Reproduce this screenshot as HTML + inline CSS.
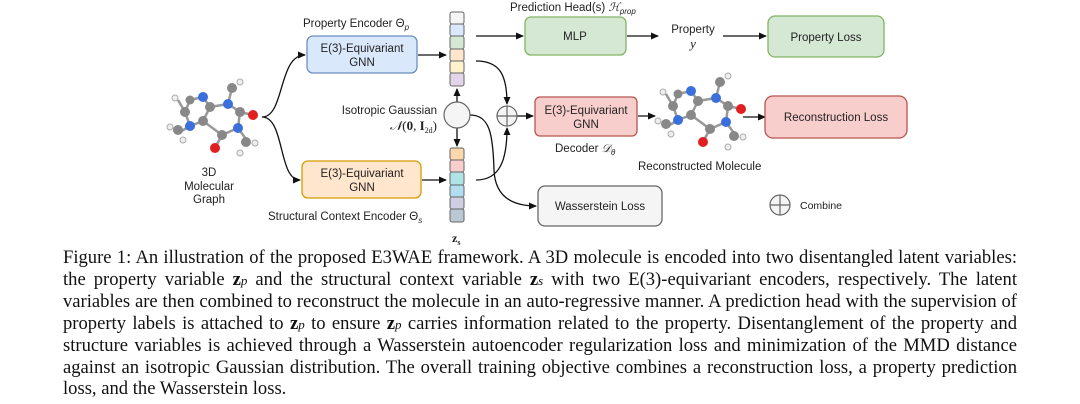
<!DOCTYPE html>
<html><head><meta charset="utf-8"><style>
body{margin:0;width:1080px;height:404px;background:#fff;position:relative;overflow:hidden;font-family:"Liberation Sans",sans-serif}
.cap{position:absolute;left:63px;width:954px;font-family:"Liberation Serif",serif;font-size:18.6px;color:#111;line-height:21.5px;top:247px}
.cap div{text-align:justify;text-align-last:justify;white-space:nowrap}
.cap div.l{text-align-last:left}
b{font-weight:bold}
</style></head><body>
<svg width="1080" height="245" style="position:absolute;left:0;top:0" font-family="Liberation Sans, sans-serif" font-size="11.5" fill="#222">
<defs><marker id="a" markerWidth="8" markerHeight="8" refX="7" refY="4" orient="auto" markerUnits="userSpaceOnUse"><path d="M0,0.5 L8,4 L0,7.5z" fill="#111"/></marker></defs>
<g stroke="#111" stroke-width="1.3" fill="none" marker-end="url(#a)">
<path d="M262,117 C285,117 278,55 305,55"/>
<path d="M262,117 C285,117 278,180 300,180"/>
<path d="M418,55 L446,55"/>
<path d="M422,180 L446,180"/>
<path d="M457,102 L457,89"/>
<path d="M457,128 L457,146"/>
<path d="M476,36 L523,36"/>
<path d="M627,36 L658,36"/>
<path d="M723,36 L766,36"/>
<path d="M476,61 C500,61 507,75 507,104"/>
<path d="M476,180 C500,180 507,160 507,128"/>
<path d="M517,116 L533,116"/>
<path d="M638,116 L655,116"/>
<path d="M743,117 L765,117"/>
<path d="M470,115 C490,115 493,135 494,170 C495,195 510,206 536,206"/>
</g>
<rect x="307" y="36" width="110" height="37" rx="6" fill="#dae8fc" stroke="#6c8ebf" stroke-width="1.3"/>
<text x="362" y="52" text-anchor="middle">E(3)-Equivariant</text><text x="362" y="66" text-anchor="middle">GNN</text>
<rect x="302" y="161" width="119" height="37" rx="6" fill="#ffe6cc" stroke="#d79b00" stroke-width="1.3"/>
<text x="362" y="177" text-anchor="middle">E(3)-Equivariant</text><text x="362" y="191" text-anchor="middle">GNN</text>
<g stroke="#666" stroke-width="1">
<rect x="450" y="12" width="14" height="12" rx="2" fill="#f5f5f5"/><rect x="450" y="24" width="14" height="12" rx="2" fill="#dae8fc"/><rect x="450" y="36" width="14" height="13" rx="2" fill="#d5e8d4"/><rect x="450" y="49" width="14" height="12" rx="2" fill="#ffe6cc"/><rect x="450" y="61" width="14" height="12" rx="2" fill="#fff2cc"/><rect x="450" y="73" width="14" height="13" rx="2" fill="#e1d5e7"/>
<rect x="450" y="148" width="14" height="12" rx="2" fill="#fad7ac"/><rect x="450" y="160" width="14" height="12" rx="2" fill="#f8cecc"/><rect x="450" y="172" width="14" height="13" rx="2" fill="#b0e3e6"/><rect x="450" y="185" width="14" height="12" rx="2" fill="#b1ddf0"/><rect x="450" y="197" width="14" height="12" rx="2" fill="#d0cee2"/><rect x="450" y="209" width="14" height="13" rx="2" fill="#bac8d3"/>
</g>
<circle cx="457" cy="115" r="13" fill="#f5f5f5" stroke="#666" stroke-width="1.2"/>
<text x="303" y="27">Property Encoder Θ<tspan font-style="italic" font-size="8" dy="3">p</tspan></text>
<text x="437" y="114" text-anchor="end">Isotropic Gaussian</text>
<text x="437" y="130" text-anchor="end" font-family="Liberation Serif, serif" font-size="13"><tspan font-style="italic">𝒩</tspan>(<tspan font-weight="bold">0</tspan>, <tspan font-weight="bold">I</tspan><tspan font-size="8" dy="3">2d</tspan><tspan dy="-3">)</tspan></text>
<text x="268" y="220">Structural Context Encoder Θ<tspan font-style="italic" font-size="8" dy="3">s</tspan></text>
<text x="452" y="242" font-family="Liberation Serif, serif" font-weight="bold" font-size="12">z<tspan font-size="8" dy="3">s</tspan></text>
<text x="209" y="176" text-anchor="middle">3D</text><text x="209" y="190" text-anchor="middle">Molecular</text><text x="209" y="203" text-anchor="middle">Graph</text>
<g id="mol">
<g stroke="#999" stroke-width="2.5" fill="none"><path d="M190,100 L203,97 L210,107 L203,121 L190,126 L185,112 Z M210,107 L228,104 L240,112 L238,128 L222,135 L203,121 M228,104 L232,88 M240,112 L253,115 M238,128 L248,142 M222,135 L215,148 M190,126 L180,132 M185,112 L178,100"/></g>
<circle cx="190" cy="100" r="4.5" fill="#888"/><circle cx="203" cy="97" r="5" fill="#3a6fdc"/><circle cx="210" cy="107" r="5" fill="#888"/><circle cx="203" cy="121" r="5" fill="#888"/><circle cx="190" cy="126" r="5" fill="#3a6fdc"/><circle cx="185" cy="112" r="5" fill="#888"/>
<circle cx="228" cy="104" r="5" fill="#3a6fdc"/><circle cx="240" cy="112" r="5" fill="#888"/><circle cx="238" cy="128" r="5" fill="#3a6fdc"/><circle cx="222" cy="135" r="5" fill="#888"/>
<circle cx="253" cy="115" r="5" fill="#e02020"/><circle cx="215" cy="148" r="5" fill="#e02020"/><circle cx="232" cy="88" r="5" fill="#888"/><circle cx="246" cy="142" r="5" fill="#888"/><circle cx="178" cy="130" r="5" fill="#888"/>
<circle cx="240" cy="82" r="3" fill="#eee" stroke="#aaa"/><circle cx="175" cy="98" r="3" fill="#eee" stroke="#aaa"/><circle cx="170" cy="127" r="3" fill="#eee" stroke="#aaa"/><circle cx="183" cy="140" r="3" fill="#eee" stroke="#aaa"/><circle cx="255" cy="143" r="3" fill="#eee" stroke="#aaa"/><circle cx="240" cy="153" r="3" fill="#eee" stroke="#aaa"/>
</g>
<use href="#mol" transform="translate(488,-6)"/>
<text x="510" y="11">Prediction Head(s) <tspan font-family="Liberation Serif, serif" font-style="italic">ℋ</tspan><tspan font-style="italic" font-size="8" dy="3">prop</tspan></text>
<rect x="525" y="17" width="101" height="38" rx="6" fill="#d5e8d4" stroke="#82b366" stroke-width="1.3"/>
<text x="575" y="40" text-anchor="middle">MLP</text>
<text x="693" y="33" text-anchor="middle">Property</text><text x="693" y="48" text-anchor="middle" font-family="Liberation Serif, serif" font-style="italic" font-size="13">y</text>
<rect x="768" y="16" width="116" height="41" rx="7" fill="#d5e8d4" stroke="#82b366" stroke-width="1.3"/>
<text x="826" y="41" text-anchor="middle">Property Loss</text>
<circle cx="507" cy="116" r="10" fill="#f5f5f5" stroke="#666" stroke-width="1.2"/><path d="M497,116 H517 M507,106 V126" stroke="#666" stroke-width="1.2"/>
<rect x="535" y="97" width="102" height="39" rx="5" fill="#f8cecc" stroke="#b85450" stroke-width="1.3"/>
<text x="586" y="114" text-anchor="middle">E(3)-Equivariant</text><text x="586" y="128" text-anchor="middle">GNN</text>
<text x="555" y="152">Decoder <tspan font-family="Liberation Serif, serif" font-style="italic">𝒟</tspan><tspan font-style="italic" font-size="8" dy="3">θ</tspan></text>
<text x="638" y="170">Reconstructed Molecule</text>
<rect x="765" y="96" width="142" height="42" rx="8" fill="#f8cecc" stroke="#b85450" stroke-width="1.3"/>
<text x="836" y="121" text-anchor="middle">Reconstruction Loss</text>
<rect x="538" y="186" width="124" height="40" rx="7" fill="#f5f5f5" stroke="#666" stroke-width="1.3"/>
<text x="600" y="210" text-anchor="middle">Wasserstein Loss</text>
<circle cx="780" cy="205" r="10" fill="#f5f5f5" stroke="#666" stroke-width="1.2"/><path d="M770,205 H790 M780,195 V215" stroke="#666" stroke-width="1.2"/>
<text x="800" y="209" font-size="10.5">Combine</text>
</svg>
<div class="cap">
<div>Figure 1: An illustration of the proposed E3WAE framework. A 3D molecule is encoded into two disentangled latent variables:</div>
<div>the property variable <b>z</b><i style="font-size:13px">p</i> and the structural context variable <b>z</b><i style="font-size:13px">s</i> with two E(3)-equivariant encoders, respectively. The latent</div>
<div>variables are then combined to reconstruct the molecule in an auto-regressive manner. A prediction head with the supervision of</div>
<div>property labels is attached to <b>z</b><i style="font-size:13px">p</i> to ensure <b>z</b><i style="font-size:13px">p</i> carries information related to the property. Disentanglement of the property and</div>
<div>structure variables is achieved through a Wasserstein autoencoder regularization loss and minimization of the MMD distance</div>
<div>against an isotropic Gaussian distribution. The overall training objective combines a reconstruction loss, a property prediction</div>
<div class="l">loss, and the Wasserstein loss.</div>
</div>
</body></html>
